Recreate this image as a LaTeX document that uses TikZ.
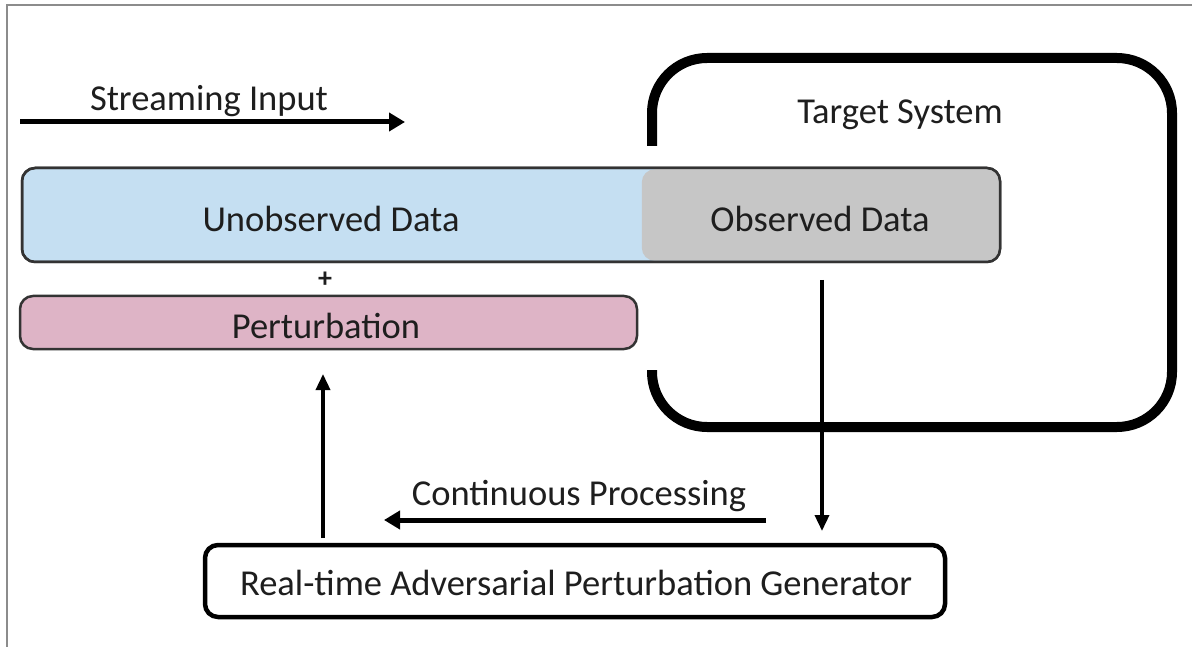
\documentclass[tikz,border=0pt]{standalone}
\usepackage{fontspec}
\setmainfont{Carlito}
\usetikzlibrary{arrows.meta,calc}
\definecolor{barblue}{HTML}{C5DFF2}
\definecolor{bargray}{HTML}{C6C6C6}
\definecolor{barpink}{HTML}{DEB4C6}
\definecolor{txt}{HTML}{1E1E1E}
\begin{document}
\begin{tikzpicture}[x=1pt,y=-1pt,
  lbl/.style={font=\fontsize{36.5}{42}\selectfont, text=txt, inner sep=0pt},
  barbox/.style={draw=black!80, line width=2.5pt, rounded corners=13pt, inner sep=0pt},
  genbox/.style={draw=black, line width=4.5pt, rounded corners=13pt, inner sep=0pt, fill=white},
  thickarrow/.style={line width=5pt, -{Triangle[length=16pt,width=18pt]}},
  thinarrow/.style={line width=3.5pt, -{Triangle[length=16pt,width=14pt]}},
  frame/.style={line width=10pt, rounded corners=55pt}
]
\useasboundingbox (0,0) rectangle (1192,647);
\fill[white] (0,0) rectangle (1192,647);
\draw[black!45, line width=1.5pt] (7,647) -- (7,5) -- (1192,5);

% Target system frame
\coordinate (f1) at (652,146);
\coordinate (f2) at (652,58);
\coordinate (f3) at (1172,58);
\coordinate (f4) at (1172,427);
\coordinate (f5) at (652,427);
\coordinate (f6) at (652,370);
\draw[frame] (f1) -- (f2) -- (f3) -- (f4) -- (f5) -- (f6);
\node[lbl] (target) at (900,115) {Target System};

% Streaming input
\coordinate (s1) at (20,122);
\coordinate (s2) at (405,122);
\draw[thickarrow] (s1) -- (s2);
\node[lbl] (stream) at (209,101) {Streaming Input};

% Data bar
\node[barbox, fill=barblue, minimum width=978pt, minimum height=94pt] (data) at (511,215) {};
\node[fill=bargray, rounded corners=13pt, inner sep=0pt, minimum width=358pt, minimum height=91.5pt, anchor=east] (obs) at ($(data.east)+(-1.25,0)$) {};
\node[barbox, minimum width=978pt, minimum height=94pt] (dataoutline) at (data) {};
\node[lbl] (unobs) at (331,219) {Unobserved Data};
\node[lbl] (obstxt) at (820,219) {Observed Data};

% plus
\node[font=\bfseries\fontsize{28}{32}\selectfont, text=txt, inner sep=0pt] (plus) at (325,280) {+};

% Perturbation
\node[barbox, fill=barpink, minimum width=617pt, minimum height=53pt] (pert) at (328.5,322.5) {};
\node[lbl] (perttxt) at (326,326) {Perturbation};

% Generator
\node[genbox, minimum width=740pt, minimum height=72pt] (gen) at (575,581) {};
\node[lbl] (gentxt) at (576,583) {Real-time Adversarial Perturbation Generator};

% arrows
\coordinate (d1) at (822,280);
\coordinate (d2) at (822,531);
\draw[thinarrow] (d1) -- (d2);
\coordinate (u1) at (323,538);
\coordinate (u2) at (323,374);
\draw[thinarrow] (u1) -- (u2);
\coordinate (c1) at (766,520);
\coordinate (c2) at (384,520);
\draw[thickarrow] (c1) -- (c2);
\node[lbl] (cont) at (579,496) {Continuous Processing};
\end{tikzpicture}
\end{document}
